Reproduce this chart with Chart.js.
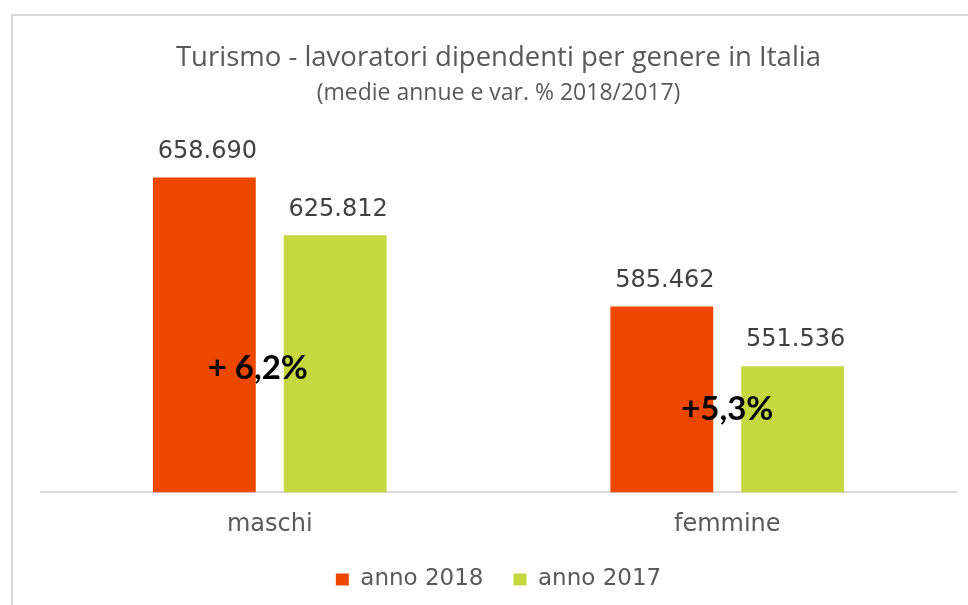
<!DOCTYPE html>
<html>
<head>
<meta charset="utf-8">
<script src="https://cdn.jsdelivr.net/npm/chart.js@4"></script>
<style>
    body { margin: 0; background: #ffffff; }
    #wrap {
        position: absolute;
        left: 11px;
        top: 14px;
        width: 955px;
        height: 589px;
        border-left: 2px solid #d9d9d9;
        border-top: 2px solid #d9d9d9;
    }
</style>
</head>
<body>
<div id="wrap"><canvas id="myChart" width="955" height="589"></canvas></div>
<script>
const categorie = ['maschi', 'femmine'];
const anno2018 = [658690, 585462];
const anno2017 = [625812, 551536];
const variazioni = ['+ 6,2%', '+5,3%'];


function formatIt(n) {
    return String(n).replace(/\B(?=(\d{3})+(?!\d))/g, '.');
}


// etichette dei valori sopra le barre
const valueLabels = {
    id: 'valueLabels',
    afterDatasetsDraw(chart) {
        const ctx = chart.ctx;
        ctx.save();
        ctx.font = '24px "DejaVu Sans"';
        ctx.fillStyle = '#404040';
        ctx.textAlign = 'center';
        ctx.textBaseline = 'middle';
        chart.data.datasets.forEach(function (ds, i) {
            chart.getDatasetMeta(i).data.forEach(function (bar, j) {
                ctx.fillText(formatIt(ds.data[j]), bar.x + 3, bar.y - 26);
            });
        });
        ctx.restore();
    }
};


// variazioni % sopra le coppie di barre
const varLabels = {
    id: 'varLabels',
    afterDatasetsDraw(chart, args, opts) {
        const ctx = chart.ctx;
        const xs = chart.scales.x;
        const ys = chart.scales.y;
        ctx.save();
        ctx.font = 'bold 33px Lato';
        ctx.fillStyle = '#000000';
        ctx.textAlign = 'center';
        ctx.textBaseline = 'middle';
        variazioni.forEach(function (t, i) {
            const x = xs.getPixelForValue(i) + opts.dx[i];
            const y = ys.getPixelForValue(opts.at[i]);
            ctx.fillText(t, x, y);
        });
        ctx.restore();
    }
};


const ctx = document.getElementById('myChart').getContext('2d');
const chart = new Chart(ctx, {
    type: 'bar',
    data: {
        labels: categorie,
        datasets: [
            {
                label: 'anno 2018',
                data: anno2018,
                backgroundColor: '#ED4700',
                categoryPercentage: 0.572,
                barPercentage: 0.786
            },
            {
                label: 'anno 2017',
                data: anno2017,
                backgroundColor: '#C5D83F',
                categoryPercentage: 0.572,
                barPercentage: 0.786
            }
        ]
    },
    options: {
        responsive: false,
        animation: false,
        layout: {
            padding: { left: 28, right: 12, top: 0, bottom: 4 }
        },
        scales: {
            x: {
                grid: { display: false, drawTicks: false },
                border: { display: true, color: '#d9d9d9', width: 2 },
                ticks: {
                    padding: 18,
                    color: '#595959',
                    font: { size: 24, family: 'DejaVu Sans' }
                },
                afterFit: function (axis) {
                    axis.height -= 19;
                }
            },
            y: {
                display: false,
                min: 480000,
                max: 698300
            }
        },
        plugins: {
            title: {
                display: true,
                text: 'Turismo - lavoratori dipendenti per genere in Italia',
                color: '#595959',
                font: { size: 27.5, family: 'Open Sans', weight: 'normal' },
                padding: { top: 26, bottom: 0 }
            },
            subtitle: {
                display: true,
                text: '(medie annue e var. % 2018/2017)',
                color: '#595959',
                font: { size: 23, family: 'Open Sans', weight: 'normal' },
                padding: { top: 5, bottom: 0 }
            },
            legend: {
                position: 'bottom',
                labels: {
                    boxWidth: 13,
                    boxHeight: 12,
                    padding: 30,
                    color: '#595959',
                    font: { size: 23, family: 'DejaVu Sans' }
                }
            },
            tooltip: { enabled: false },
            varLabels: {
                dx: [-12, 0],
                at: [550300, 527050]
            }
        }
    },
    plugins: [valueLabels, varLabels]
});
</script>
</body>
</html>
